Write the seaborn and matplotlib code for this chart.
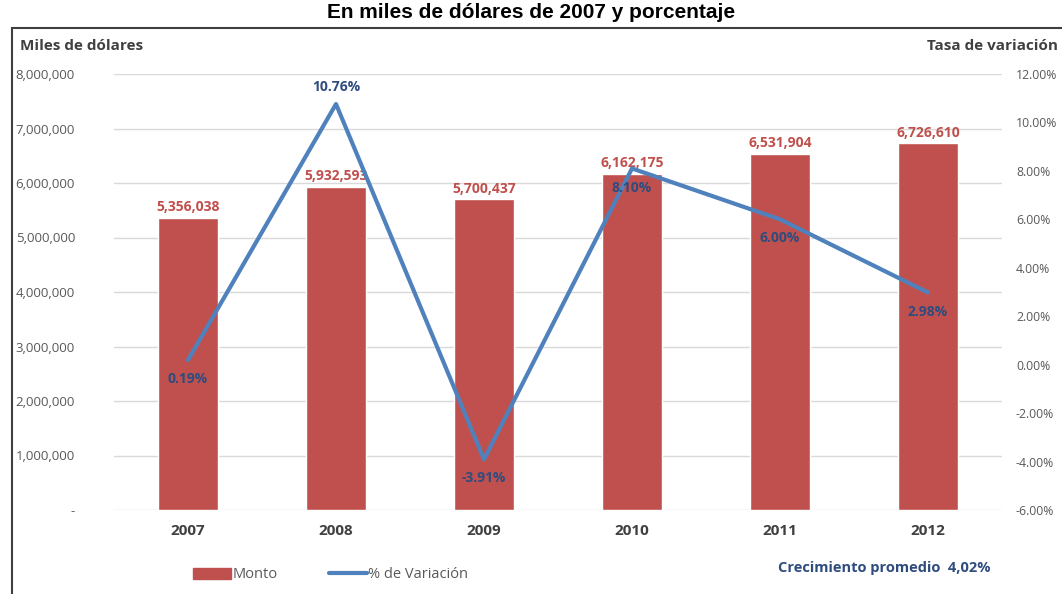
import matplotlib
matplotlib.use("Agg")
import matplotlib.pyplot as plt
import seaborn as sns
import pandas as pd
from matplotlib.patches import Rectangle, Patch
from matplotlib.lines import Line2D

years = ["2007", "2008", "2009", "2010", "2011", "2012"]
monto = [5356038, 5932593, 5700437, 6162175, 6531904, 6726610]
variacion = [0.19, 10.76, -3.91, 8.10, 6.00, 2.98]
left_ticks = [0, 1000000, 2000000, 3000000, 4000000, 5000000, 6000000, 7000000, 8000000]
right_ticks = [-6, -4, -2, 0, 2, 4, 6, 8, 10, 12]

sns.set_theme(style="white")
plt.rcParams["font.family"] = ["Open Sans", "DejaVu Sans"]

BAR = "#C0504D"
LINE = "#4F81BD"
LBL_BLUE = "#2E4C7E"
GREY = "#595959"

df = pd.DataFrame({"year": years, "monto": monto, "var": variacion, "pos": range(len(years))})

fig = plt.figure(figsize=(10.62, 5.94), dpi=100)
ax = fig.add_axes([114 / 1062, 1 - 510 / 594, 888 / 1062, 436 / 594])

sns.barplot(data=df, x="year", y="monto", color=BAR, saturation=1, width=0.4, ax=ax)
ax.set_ylim(0, 8000000)
ax.set_yticks(left_ticks)
ax.set_yticklabels(["-" if v == 0 else f"{v:,}" for v in left_ticks], color=GREY, fontsize=9.5)
ax.set_xlabel("")
ax.set_ylabel("")
ax.tick_params(axis="x", labelsize=11, colors="#404040", pad=10, length=0)
for lbl in ax.get_xticklabels():
    lbl.set_fontweight("bold")
ax.tick_params(axis="y", length=0, pad=28)
ax.yaxis.grid(True, color="#D9D9D9", linewidth=1)
ax.set_axisbelow(True)
for s in ax.spines.values():
    s.set_visible(False)
ax.set_xlim(-0.5, 5.5)

for i, v in enumerate(monto):
    ax.text(i, v + 70000, f"{v:,}", ha="center", va="bottom", color=BAR, fontsize=10, fontweight="bold")

ax2 = ax.twinx()
sns.lineplot(data=df, x="pos", y="var", color=LINE, linewidth=3, ax=ax2)
ax2.set_ylim(-6, 12)
ax2.set_yticks(right_ticks)
ax2.set_yticklabels([f"{v:.2f}%" for v in right_ticks], color=GREY, fontsize=8.8)
ax2.tick_params(axis="y", length=0, pad=10)
ax2.set_xlabel("")
ax2.set_ylabel("")
ax2.set_xlim(-0.5, 5.5)
for s in ax2.spines.values():
    s.set_visible(False)

offsets = [-1.2, 0.5, -1.2, -1.2, -1.2, -1.2]
for i, v in enumerate(variacion):
    va = "bottom" if offsets[i] > 0 else "top"
    ax2.text(i, v + (0.4 if offsets[i] > 0 else -0.5), f"{v:.2f}%", ha="center", va=va,
             color=LBL_BLUE, fontsize=10, fontweight="bold")

# axis titles
fig.text(20 / 1062, 1 - 46 / 594, "Miles de dólares", fontsize=11, fontweight="bold", color="#404040", va="center")
fig.text(1058 / 1062, 1 - 46 / 594, "Tasa de variación", fontsize=11, fontweight="bold", color="#404040", va="center", ha="right")

# title
fig.text(0.5, 1 - 12 / 594, "En miles de dólares de 2007 y porcentaje", ha="center", va="center",
         fontsize=15, fontweight="bold", family=["Liberation Sans", "DejaVu Sans"], color="black")

# border
fig.patches.append(Rectangle((12 / 1062, -0.1), 1.2, 1 - 28 / 594 + 0.1, transform=fig.transFigure,
                             fill=False, edgecolor="#404040", linewidth=1.5))

# legend
handles = [Patch(facecolor=BAR, edgecolor=BAR), Line2D([0], [0], color=LINE, linewidth=3)]
fig.legend(handles, ["Monto", "% de Variación"], loc="center left", bbox_to_anchor=(180 / 1062, 1 - 575 / 594),
           ncol=2, frameon=False, fontsize=10.5, handlelength=2.6, handletextpad=0.1, columnspacing=3.5,
           labelcolor=GREY)

fig.text(990 / 1062, 1 - 568 / 594, "Crecimiento promedio  4,02%", ha="right", va="center",
         fontsize=10.5, fontweight="bold", color=LBL_BLUE)

fig.savefig("out.png", dpi=100)
